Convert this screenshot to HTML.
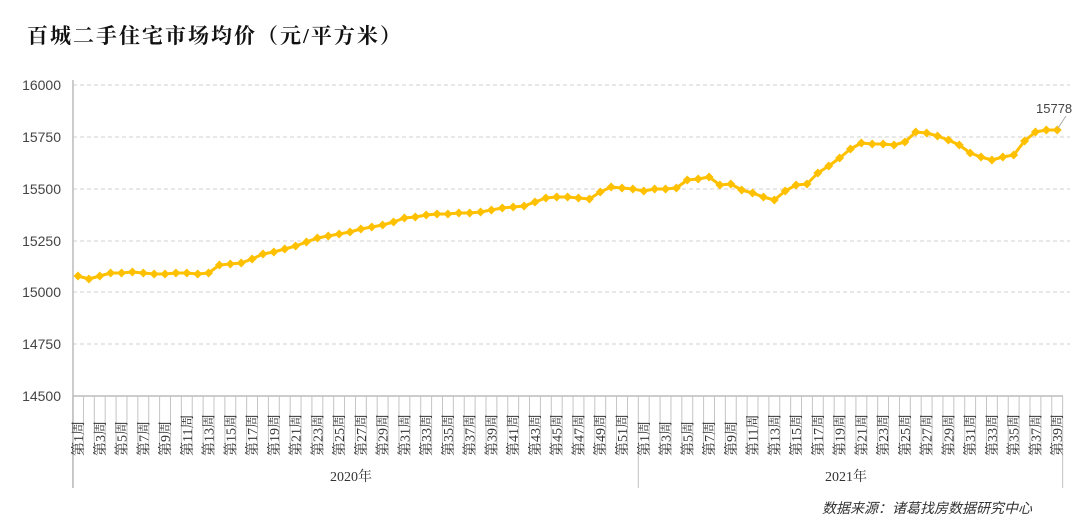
<!DOCTYPE html>
<html><head><meta charset="utf-8">
<style>
html,body{margin:0;padding:0;background:#fff;}
svg{display:block;}
.t{font-family:"Liberation Serif","Noto Serif CJK SC","Noto Sans CJK SC",serif;font-size:14px;fill:#333;}
.y{font-family:"Liberation Sans",sans-serif;font-size:14px;fill:#444;}
</style></head><body>
<svg id="s" width="1080" height="532" xmlns="http://www.w3.org/2000/svg">
<text x="27" y="43" style="font-family:'Liberation Serif','Noto Serif CJK SC',serif;font-size:21px;font-weight:bold;fill:#111;letter-spacing:2px">百城二手住宅市场均价（元/平方米）</text>
<g id="grid"></g>
<g class="y" text-anchor="end">
<text x="61" y="90">16000</text>
<text x="61" y="142">15750</text>
<text x="61" y="194">15500</text>
<text x="61" y="246">15250</text>
<text x="61" y="297">15000</text>
<text x="61" y="349">14750</text>
<text x="61" y="401">14500</text>
</g>
<g id="lab" class="t">
<text>第1周</text><text>第3周</text><text>第5周</text><text>第7周</text><text>第9周</text><text>第11周</text><text>第13周</text><text>第15周</text><text>第17周</text><text>第19周</text><text>第21周</text><text>第23周</text><text>第25周</text><text>第27周</text><text>第29周</text><text>第31周</text><text>第33周</text><text>第35周</text><text>第37周</text><text>第39周</text><text>第41周</text><text>第43周</text><text>第45周</text><text>第47周</text><text>第49周</text><text>第51周</text>
<text>第1周</text><text>第3周</text><text>第5周</text><text>第7周</text><text>第9周</text><text>第11周</text><text>第13周</text><text>第15周</text><text>第17周</text><text>第19周</text><text>第21周</text><text>第23周</text><text>第25周</text><text>第27周</text><text>第29周</text><text>第31周</text><text>第33周</text><text>第35周</text><text>第37周</text><text>第39周</text>
</g>
<text x="330" y="481" style="font-family:'Liberation Serif','Noto Serif CJK SC',serif;font-size:14px;fill:#333">2020年</text>
<text x="825" y="481" style="font-family:'Liberation Serif','Noto Serif CJK SC',serif;font-size:14px;fill:#333">2021年</text>
<text x="1032" y="513" text-anchor="end" style="font-family:'Liberation Serif','Noto Sans CJK SC',serif;font-size:14px;font-style:italic;fill:#333">数据来源：诸葛找房数据研究中心</text>
<g id="ser"></g>
<text x="1036" y="113" style="font-family:'Liberation Sans',sans-serif;font-size:13px;fill:#444">15778</text>
<line x1="1066" y1="116" x2="1058" y2="128" stroke="#aaa" stroke-width="1"/>
</svg>
<script>
var ys=[276,279,276,273,273,272,273,274,274,273,273,274,273,265,264,263,259,254,252,249,246,242,238,236,234,232,229,227,225,222,218,217,215,214,214,213,213,212,210,208,207,206,202,198,197,197,198,199,192,187,188,189,
191,189,189,188,180,179,177,185,184,190,193,197,200,191,185,184,173,166,158,149,143,144,144,145,142,132,133,136,140,145,153,157,160,157,155,141,132,130,130];
var NS="http://www.w3.org/2000/svg",s=10.88,x0=78;
function el(n,a,p){var e=document.createElementNS(NS,n);for(var k in a)e.setAttribute(k,a[k]);p.appendChild(e);return e;}
var g=document.getElementById('grid');
[85,137,189,241,292,344].forEach(function(y){el('line',{x1:73,x2:1070,y1:y,y2:y,stroke:'#d0d0d0','stroke-dasharray':'4,3','stroke-width':1},g);});
el('line',{x1:73,x2:73,y1:80,y2:488,stroke:'#bbb','stroke-width':1.5},g);
el('line',{x1:73,x2:1063,y1:396,y2:396,stroke:'#bbb','stroke-width':1.5},g);
for(var i=0;i<=91;i++){var x=x0+(i-0.5)*s;var long=(i==0||i==52||i==91);el('line',{x1:x,x2:x,y1:396,y2:long?488:455,stroke:'#c4c4c4','stroke-width':1},g);}
var labs=document.getElementById('lab').children;
for(var j=0;j<labs.length;j++){var idx=j<26?j*2:52+(j-26)*2;var cx=x0+idx*s+5;labs[j].setAttribute('transform','translate('+cx+',456) rotate(-90)');}
var sg=document.getElementById('ser'),pts=[];
for(var i=0;i<ys.length;i++)pts.push((x0+i*s).toFixed(1)+','+ys[i]);
el('polyline',{points:pts.join(' '),fill:'none',stroke:'#FFC000','stroke-width':3,'stroke-linejoin':'round'},sg);
for(var i=0;i<ys.length;i++){var x=x0+i*s,y=ys[i],r=4.5;el('polygon',{points:x+','+(y-r)+' '+(x+r)+','+y+' '+x+','+(y+r)+' '+(x-r)+','+y,fill:'#FFC000'},sg);}
</script>
</body></html>
